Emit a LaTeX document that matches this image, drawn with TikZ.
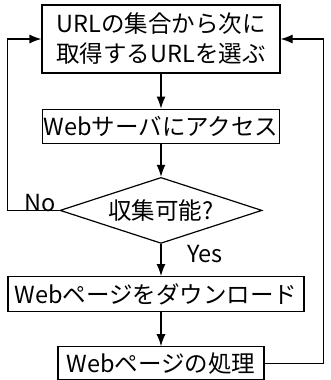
\documentclass[tikz,border=0pt]{standalone}
\usepackage{fontspec}
\setmainfont{Noto Sans CJK JP}
\usetikzlibrary{positioning,shapes.geometric,arrows.meta}

\tikzset{
  stepbox/.style={draw, line width=1.2pt, inner xsep=1pt, inner ysep=0pt, align=center},
  decision/.style={draw, diamond, line width=1.2pt, aspect=3, inner sep=0pt,
    minimum width=202pt, minimum height=66pt},
  flow/.style={line width=1.2pt, -{Latex[length=12pt,width=9pt]}},
}

\begin{document}
\begin{tikzpicture}[x=1pt, y=1pt, font=\fontsize{23.5}{30}\selectfont]
    \useasboundingbox (0,0) rectangle (330,-380);

    \node[stepbox, minimum width=238pt, minimum height=68pt] (select) at (161,-39) {URLの集合から次に\\取得するURLを選ぶ};
    \node[stepbox, below=35pt of select, minimum width=234pt, minimum height=34pt] (access) {Webサーバにアクセス};
    \node[decision, below=33pt of access] (check) {収集可能?};
    \node[stepbox, below=32pt of check, xshift=-5pt, minimum width=296pt, minimum height=35pt] (download) {Webページをダウンロード};
    \node[stepbox, below=34pt of download, xshift=5pt, minimum width=206pt, minimum height=33pt] (process) {Webページの処理};

    % main flow
    \draw[flow] (select) -- (access);
    \draw[flow] (access) -- (check);
    \draw[flow] (check.south) -- (check.south |- download.north);
    \draw[flow] (download.south -| process) -- (process.north);

    % loops back to the top
    \draw[flow] (check.west) -- ++(-52,0) |- (select.west);
    \draw[flow] (process.east) -- ++(59,0) |- (select.east);

    \node[anchor=base east, inner sep=0pt, xshift=-3pt, yshift=-1pt] (no) at (check.west) {No};
    \node[anchor=north west, inner sep=1pt, xshift=25pt] (yes) at (check.south) {Yes};
\end{tikzpicture}
\end{document}
